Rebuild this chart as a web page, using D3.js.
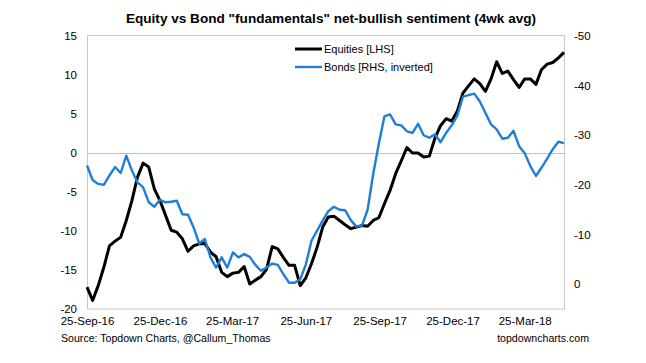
<!DOCTYPE html>
<html><head><meta charset="utf-8">
<script src="https://cdn.jsdelivr.net/npm/d3@7"></script>
<style>body{margin:0;background:#fff}svg{display:block}text{font-family:"Liberation Sans",Arial,sans-serif;fill:#000}</style>
</head><body>
<svg id="chart" width="646" height="363"></svg>
<script>
// ---- data ----
const startDate = "2016-09-25";   // first weekly observation
const endDate = "2018-05-13";     // last weekly observation
const equities = [-17.2,-18.9,-17.0,-14.65,-11.9,-11.3,-10.8,-8.65,-6.1,-3.1,-1.3,-1.8,-4.6,-6.1,-8.0,-9.9,-10.15,-11.0,-12.6,-11.9,-11.65,-11.6,-12.7,-13.3,-15.3,-15.85,-15.4,-15.3,-14.55,-16.8,-16.3,-15.85,-14.9,-12.0,-12.3,-13.4,-14.4,-14.4,-17.0,-16.0,-14.2,-12.1,-9.5,-8.2,-8.1,-8.65,-9.2,-9.7,-9.5,-9.3,-9.4,-8.65,-8.3,-6.5,-4.8,-2.65,-1.0,0.7,0.0,0.0,-0.5,-0.4,1.9,3.5,4.4,4.1,5.4,7.7,8.6,9.5,8.9,7.9,9.5,11.7,10.2,10.5,9.4,8.4,9.5,9.5,8.8,10.7,11.4,11.6,12.2,12.9];
const bonds = [-23.9,-21.0,-20.2,-20.0,-21.9,-23.6,-22.4,-25.9,-22.9,-20.5,-19.5,-16.5,-15.6,-17.0,-16.5,-16.6,-16.8,-14.1,-14.0,-11.4,-8.2,-9.1,-5.4,-3.35,-5.4,-3.35,-6.4,-5.4,-6.05,-5.5,-3.9,-2.7,-3.35,-4.15,-3.9,-2.0,-0.3,-0.3,-1.0,-4.0,-8.75,-10.8,-12.8,-14.7,-15.6,-15.0,-14.9,-12.9,-11.6,-11.8,-15.0,-22.2,-28.3,-33.8,-34.2,-32.2,-32.0,-30.8,-30.5,-32.3,-30.0,-29.5,-30.2,-28.6,-30.5,-32.0,-34.0,-37.8,-38.1,-38.4,-36.8,-34.5,-32.2,-31.2,-29.3,-29.5,-30.9,-27.8,-26.4,-23.8,-21.8,-23.5,-25.3,-27.2,-28.7,-28.4];
const xTickDates = ["2016-09-25","2016-12-25","2017-03-25","2017-06-25","2017-09-25","2017-12-25","2018-03-25"];
const leftTicks = [15,10,5,0,-5,-10,-15,-20];
const rightTicks = [-50,-40,-30,-20,-10,0];
const leftDomain = [-20,15];
const rightDomain = [5,-50];
const seriesNames = ["Equities [LHS]","Bonds [RHS, inverted]"];
const titleText = 'Equity vs Bond "fundamentals" net-bullish sentiment (4wk avg)';
const sourceText = "Source: Topdown Charts, @Callum_Thomas";
const siteText = "topdowncharts.com";

// ---- layout ----
const L = 87, R = 564, T = 36, B = 309;
const parse = d3.utcParse("%Y-%m-%d");
const dates = equities.map((_, i) => d3.utcDay.offset(parse(startDate), 7 * i));

const svg = d3.select("#chart");
const x = d3.scaleUtc().domain([parse(startDate), parse(endDate)]).range([L, R]);
const yL = d3.scaleLinear().domain(leftDomain).range([B, T]);
const yR = d3.scaleLinear().domain(rightDomain).range([B, T]);
const numFmt = d => String(d);

// title
svg.append("text").attr("x", 331).attr("y", 23).attr("text-anchor", "middle")
  .style("font-size", "13.6px").style("font-weight", "bold").text(titleText);

// plot frame
svg.append("rect").attr("x", L + 0.5).attr("y", T - 0.5).attr("width", R - L).attr("height", B - T + 0.5)
  .attr("fill", "none").attr("stroke", "#c8c8c8").attr("stroke-width", 1);
// zero line
svg.append("line").attr("x1", L).attr("x2", R).attr("y1", Math.round(yL(0)) + 0.5).attr("y2", Math.round(yL(0)) + 0.5)
  .attr("stroke", "#c0c0c0").attr("stroke-width", 1);

// left axis
const gl = svg.append("g").attr("transform", `translate(${L},0)`)
  .call(d3.axisLeft(yL).tickValues(leftTicks).tickSize(0).tickPadding(10).tickFormat(numFmt));
gl.select(".domain").remove();
gl.selectAll("text").style("font-size", "11.5px").style("font-family", "Liberation Sans, Arial, sans-serif");

// right axis
const gr = svg.append("g").attr("transform", `translate(${R},0)`)
  .call(d3.axisRight(yR).tickValues(rightTicks).tickSize(0).tickPadding(10).tickFormat(numFmt));
gr.select(".domain").remove();
gr.selectAll("text").style("font-size", "11.5px").style("font-family", "Liberation Sans, Arial, sans-serif");

// bottom axis
const gb = svg.append("g").attr("transform", `translate(0,${B})`)
  .call(d3.axisBottom(x).tickValues(xTickDates.map(parse)).tickSize(0).tickPadding(8)
    .tickFormat(d3.utcFormat("%d-%b-%y")));
gb.select(".domain").remove();
gb.selectAll("text").style("font-size", "11.5px").style("font-family", "Liberation Sans, Arial, sans-serif");

// lines
const lineL = d3.line().x((d, i) => x(dates[i])).y(d => yL(d));
const lineR = d3.line().x((d, i) => x(dates[i])).y(d => yR(d));
const blue = "#1f7fd6";
svg.append("path").datum(equities).attr("d", lineL).attr("fill", "none")
  .attr("stroke", "#000").attr("stroke-width", 3).attr("stroke-linejoin", "round");
svg.append("path").datum(bonds).attr("d", lineR).attr("fill", "none")
  .attr("stroke", blue).attr("stroke-width", 2.4).attr("stroke-linejoin", "round");

// legend
const lg = svg.append("g");
[[seriesNames[0], "#000", 3, 49], [seriesNames[1], blue, 2.4, 67]].forEach(([name, col, w, yy]) => {
  lg.append("line").attr("x1", 295).attr("x2", 322).attr("y1", yy).attr("y2", yy).attr("stroke", col).attr("stroke-width", w);
  lg.append("text").attr("x", 324).attr("y", yy + 4).style("font-size", "11px").text(name);
});

// footer
svg.append("text").attr("x", 61).attr("y", 342).style("font-size", "10.6px").text(sourceText);
svg.append("text").attr("x", 589).attr("y", 342).attr("text-anchor", "end").style("font-size", "10.6px").text(siteText);
</script>
</body></html>
